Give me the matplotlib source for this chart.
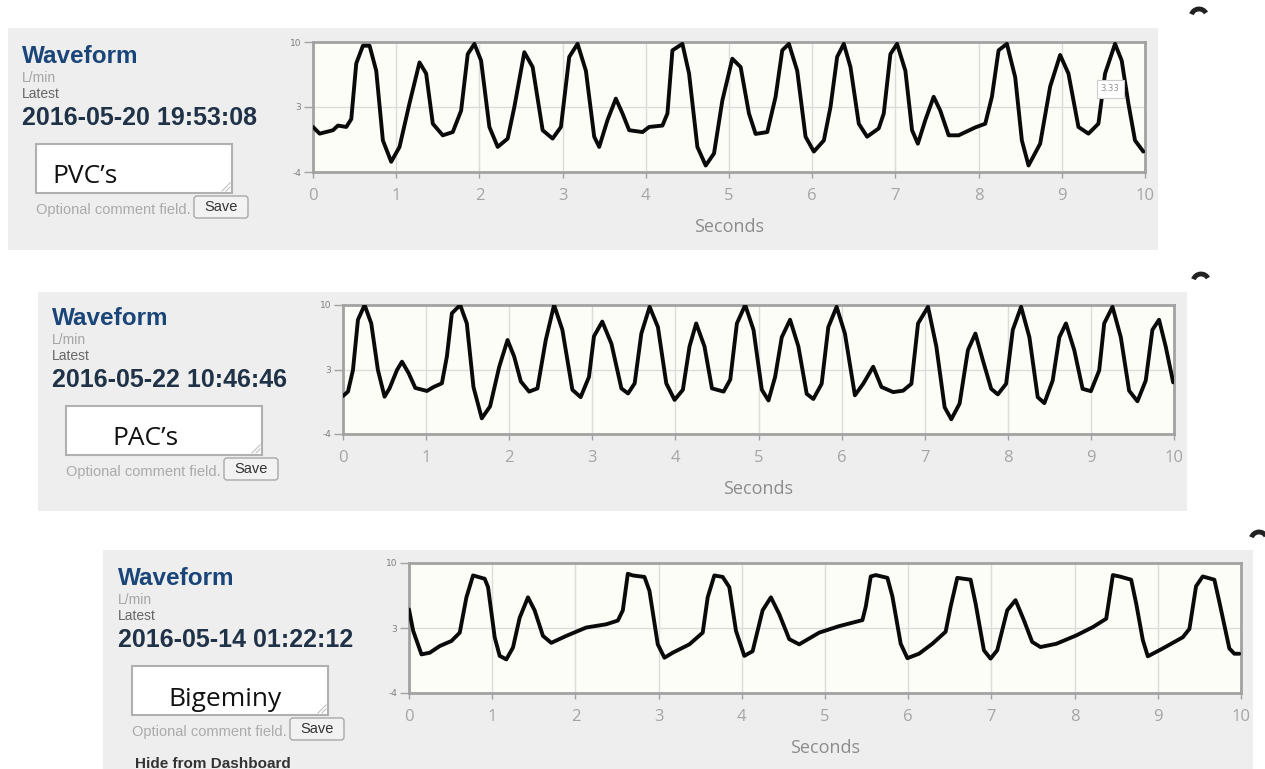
import matplotlib
matplotlib.use('Agg')
import matplotlib.pyplot as plt
from matplotlib.patches import Rectangle, FancyBboxPatch, Arc

plt.rcParams['axes.unicode_minus'] = False

# ---- data ----
timestamps = ['2016-05-20 19:53:08', '2016-05-22 10:46:46', '2016-05-14 01:22:12']
comments = ['PVC\u2019s', 'PAC\u2019s', 'Bigeminy']
x_ticks = [0, 1, 2, 3, 4, 5, 6, 7, 8, 9, 10]
y_ticks = [-4, 3, 10]
y_tick_labels = ['-4', '3', '10']

pvc_t = [0, 0.08, 0.24, 0.3, 0.4, 0.46, 0.52, 0.6, 0.68, 0.76, 0.84, 0.94, 1.04, 1.16,
         1.28, 1.36, 1.44, 1.56, 1.68, 1.78, 1.86, 1.94, 2.02, 2.12, 2.22, 2.34, 2.42,
         2.54, 2.64, 2.76, 2.88, 2.98, 3.08, 3.18, 3.28, 3.38, 3.44, 3.54, 3.64, 3.72,
         3.8, 3.96, 4.04, 4.2, 4.26, 4.32, 4.44, 4.52, 4.62, 4.72, 4.82, 4.92, 5.04,
         5.14, 5.24, 5.32, 5.46, 5.56, 5.64, 5.72, 5.82, 5.92, 6.02, 6.14, 6.22, 6.3,
         6.38, 6.46, 6.56, 6.66, 6.8, 6.86, 6.94, 7.02, 7.12, 7.2, 7.27, 7.36, 7.46,
         7.54, 7.64, 7.76, 7.96, 8.08, 8.16, 8.24, 8.34, 8.44, 8.52, 8.6, 8.74, 8.86,
         8.98, 9.08, 9.2, 9.32, 9.44, 9.52, 9.64, 9.72, 9.8, 9.88, 9.98]
pvc_v = [0.85, 0.13, 0.5, 1.0, 0.85, 1.7, 7.7, 9.6, 9.6, 6.9, -0.6, -2.9, -1.3, 3.4,
         7.8, 6.6, 1.2, -0.05, 0.3, 2.6, 8.7, 9.8, 8.0, 0.85, -1.3, -0.4, 3.0,
         8.9, 7.3, 0.5, -0.4, 0.85, 8.4, 9.8, 6.9, -0.2, -1.3, 1.6, 3.9, 2.3,
         0.5, 0.3, 0.85, 1.0, 2.3, 9.1, 9.8, 6.6, -1.3, -3.3, -2.0, 3.7, 8.2,
         7.3, 2.3, 0.1, 0.3, 4.1, 9.1, 9.8, 6.9, -0.2, -1.8, -0.6, 3.0, 8.4,
         9.8, 7.3, 1.2, -0.2, 0.7, 2.3, 8.7, 9.8, 6.9, 0.5, -0.95, 1.6, 4.1,
         2.6, -0.05, -0.05, 0.8, 1.2, 4.1, 9.1, 9.8, 6.2, -0.6, -3.3, -0.95, 5.2,
         8.6, 6.6, 0.85, 0.13, 1.2, 6.6, 9.8, 8.0, 3.4, -0.6, -1.8]

pac_t = [0, 0.06, 0.12, 0.18, 0.26, 0.34, 0.42, 0.5, 0.56, 0.65, 0.71, 0.79, 0.87,
         1.01, 1.09, 1.19, 1.25, 1.31, 1.41, 1.49, 1.57, 1.67, 1.77, 1.88, 1.98, 2.06,
         2.14, 2.24, 2.34, 2.44, 2.54, 2.64, 2.76, 2.86, 2.96, 3.02, 3.12, 3.23, 3.35,
         3.43, 3.51, 3.59, 3.69, 3.79, 3.89, 3.99, 4.09, 4.17, 4.25, 4.35, 4.44, 4.58,
         4.66, 4.74, 4.84, 4.94, 5.04, 5.12, 5.2, 5.28, 5.38, 5.48, 5.58, 5.66, 5.76,
         5.84, 5.94, 6.04, 6.16, 6.26, 6.38, 6.48, 6.62, 6.74, 6.84, 6.92, 7.04, 7.14,
         7.24, 7.32, 7.42, 7.52, 7.61, 7.7, 7.8, 7.88, 7.98, 8.06, 8.16, 8.26, 8.36,
         8.44, 8.54, 8.62, 8.7, 8.8, 8.9, 9.0, 9.1, 9.16, 9.26, 9.36, 9.46, 9.56,
         9.66, 9.74, 9.82, 9.9, 9.99]
pac_v = [0.12, 0.6, 2.95, 8.4, 10.0, 8.0, 2.95, 0.05, 0.95, 2.95, 3.85, 2.6, 1.0,
         0.67, 1.1, 1.5, 4.4, 9.1, 10.0, 8.0, 1.1, -2.3, -1.0, 3.3, 6.2, 4.4,
         1.7, 0.6, 0.95, 6.2, 10.0, 7.3, 0.8, 0.0, 2.2, 6.6, 8.2, 5.8, 0.95,
         0.4, 1.5, 6.9, 9.8, 7.6, 1.5, -0.3, 0.8, 5.5, 8.0, 5.5, 0.95, 0.6,
         1.9, 8.0, 10.0, 7.3, 0.8, -0.36, 2.2, 6.5, 8.4, 5.5, 0.36, -0.2, 1.45,
         7.6, 9.8, 6.9, 0.2, 1.45, 3.3, 1.1, 0.55, 0.7, 1.45, 8.0, 9.8, 5.5,
         -1.1, -2.4, -0.7, 5.1, 6.9, 4.0, 0.9, 0.3, 1.45, 7.3, 9.8, 6.5, 0.0,
         -0.65, 1.8, 6.5, 8.0, 5.1, 0.9, 0.65, 2.9, 8.0, 9.8, 6.5, 0.7, -0.45,
         1.8, 7.3, 8.4, 5.5, 1.6]

big_t = [0, 0.05, 0.15, 0.25, 0.37, 0.51, 0.61, 0.69, 0.77, 0.91, 0.95, 1.03, 1.09,
         1.17, 1.25, 1.33, 1.43, 1.51, 1.61, 1.71, 1.89, 2.13, 2.37, 2.51, 2.57, 2.63,
         2.69, 2.83, 2.89, 2.99, 3.07, 3.17, 3.37, 3.53, 3.59, 3.67, 3.77, 3.85, 3.93,
         4.03, 4.13, 4.25, 4.35, 4.45, 4.57, 4.69, 4.93, 5.17, 5.45, 5.49, 5.55, 5.61,
         5.75, 5.81, 5.91, 5.99, 6.13, 6.29, 6.45, 6.51, 6.59, 6.75, 6.81, 6.91, 6.99,
         7.07, 7.19, 7.29, 7.39, 7.49, 7.59, 7.78, 8.02, 8.22, 8.38, 8.46, 8.54, 8.68,
         8.74, 8.82, 8.88, 9.06, 9.3, 9.38, 9.46, 9.54, 9.68, 9.74, 9.86, 9.92, 9.98]
big_v = [5.0, 2.7, 0.16, 0.34, 1.06, 1.6, 2.5, 6.3, 8.66, 8.3, 7.4, 2.0, 0.0,
         -0.38, 0.9, 4.1, 6.3, 4.9, 2.15, 1.4, 2.15, 3.05, 3.4, 3.8, 4.9, 8.84,
         8.66, 8.5, 7.0, 1.24, -0.2, 0.34, 1.24, 2.5, 6.3, 8.66, 8.5, 7.4, 2.7,
         0.0, 0.5, 4.9, 6.3, 4.5, 1.8, 1.24, 2.5, 3.2, 3.85, 5.3, 8.55, 8.7,
         8.4, 6.4, 1.3, -0.25, 0.23, 1.3, 2.6, 5.3, 8.4, 8.2, 5.65, 0.6, -0.3,
         0.6, 4.9, 6.0, 3.85, 1.5, 0.95, 1.3, 2.2, 3.1, 4.0, 8.7, 8.55, 8.2,
         5.65, 1.7, -0.05, 0.8, 2.0, 2.9, 7.5, 8.55, 8.2, 5.8, 0.8, 0.23, 0.23]

series = [(pvc_t, pvc_v), (pac_t, pac_v), (big_t, big_v)]

# ---- layout in pixels (left, top, right, bottom) ----
W, H = 1265, 769
bg_boxes = [(8, 28, 1158, 250), (38, 292, 1187, 511), (103, 550, 1253, 769)]
plot_boxes = [(313, 42, 1145, 172), (343, 305, 1174, 434), (409, 563, 1241, 693)]
text_x = [22, 52, 118]
text_dy = [0, 262, 522]
comment_x = [52, 112, 168]
curl_pos = [(1199, 17), (1201, 282), (1259, 540)]

fig = plt.figure(figsize=(W / 100, H / 100), dpi=100)
fig.patch.set_facecolor('white')

# canvas axes in pixel coordinates for the page furniture
cv = fig.add_axes([0, 0, 1, 1], zorder=0)
cv.set_xlim(0, W)
cv.set_ylim(H, 0)
cv.axis('off')

for i in range(3):
    l, t, r, b = bg_boxes[i]
    cv.add_patch(Rectangle((l, t), r - l, b - t, facecolor='#eeeeee', edgecolor='none'))

    x0 = text_x[i]
    dy = text_dy[i]
    cv.text(x0, 63 + dy, 'Waveform', fontsize=17.5, fontweight='bold', color='#1a4579',
            family='Liberation Sans', va='baseline')
    cv.text(x0, 82 + dy, 'L/min', fontsize=10, color='#a5a5a5',
            family='Liberation Sans', va='baseline')
    cv.text(x0, 98 + dy, 'Latest', fontsize=10, color='#666666',
            family='Liberation Sans', va='baseline')
    cv.text(x0, 125 + dy, timestamps[i], fontsize=18, fontweight='bold', color='#1f3247',
            family='Liberation Sans', va='baseline')

    # comment box
    bx = x0 + 14
    cv.add_patch(Rectangle((bx, 144 + dy), 196, 49, facecolor='white',
                           edgecolor='#b0b0b0', linewidth=1.5))
    cv.plot([bx + 186, bx + 194], [191 + dy, 183 + dy], color='#c0c0c0', lw=0.8)
    cv.plot([bx + 190, bx + 194], [191 + dy, 187 + dy], color='#c0c0c0', lw=0.8)
    cv.text(comment_x[i], 183 + dy + (1 if i == 2 else 0), comments[i], fontsize=19,
            color='#111111', family='Open Sans', va='baseline')

    cv.text(bx, 214 + dy, 'Optional comment field.', fontsize=10.5, color='#aaaaaa',
            family='Liberation Sans', va='baseline')
    cv.add_patch(FancyBboxPatch((bx + 158, 196 + dy), 54, 22,
                                boxstyle='round,pad=0,rounding_size=3',
                                facecolor='#f2f2f2', edgecolor='#a8a8a8', linewidth=1))
    cv.text(bx + 185, 207 + dy, 'Save', fontsize=10.5, color='#333333',
            family='Liberation Sans', ha='center', va='center')

    cx, cy = curl_pos[i]
    cv.add_patch(Arc((cx, cy), 16, 16, theta1=200, theta2=330, color='#222222', lw=3.5))

cv.text(135, 768, 'Hide from Dashboard', fontsize=11, fontweight='bold', color='#333333',
        family='Liberation Sans', va='baseline')

# waveform plots
for i in range(3):
    l, t, r, b = plot_boxes[i]
    ax = fig.add_axes([l / W, 1 - b / H, (r - l) / W, (b - t) / H], zorder=2)
    ax.set_facecolor('#fdfdf7')
    tt, vv = series[i]
    ax.plot(tt, vv, color='#0a0a0a', lw=2.8, solid_joinstyle='round',
            solid_capstyle='round', zorder=3)
    ax.set_xlim(0, 10)
    ax.set_ylim(-4, 10)
    ax.set_xticks(x_ticks)
    ax.set_yticks(y_ticks)
    ax.set_yticklabels(y_tick_labels)
    ax.grid(True, color='#dcdcdc', lw=1)
    for sp in ax.spines.values():
        sp.set_color('#a2a2a2')
        sp.set_linewidth(2)
    ax.tick_params(axis='x', direction='out', length=4, width=1, color='#a2a2a2',
                   labelsize=12, labelcolor='#a5a5a5', pad=7.5)
    ax.tick_params(axis='y', direction='out', length=6.5, width=1, color='#a2a2a2',
                   labelsize=6.5, labelcolor='#808080', pad=2)
    for lab in ax.get_xticklabels():
        lab.set_family('Open Sans')
    ax.set_xlabel('Seconds', fontsize=13, color='#8c8c8c', family='Open Sans', labelpad=10)
    if i == 0:
        ax.text(9.58, 4.95, '3.33', fontsize=6, color='#909090', ha='center', va='center',
                zorder=4, bbox=dict(boxstyle='square,pad=0.5', facecolor='white',
                                    edgecolor='#cccccc', lw=0.8))

fig.savefig('out.png', dpi=100, facecolor='white')
